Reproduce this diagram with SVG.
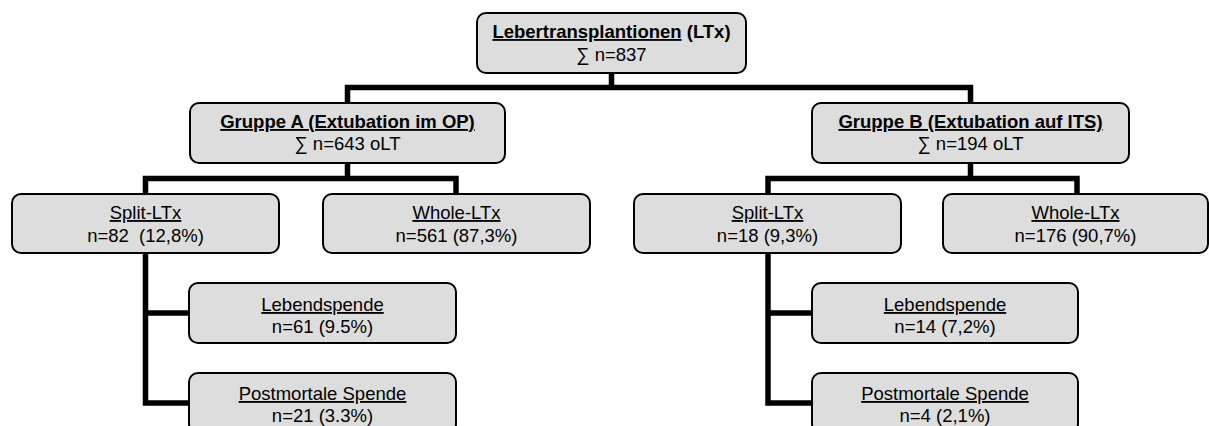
<svg xmlns="http://www.w3.org/2000/svg" width="1209" height="426" viewBox="0 0 1209 426">
<style>
.box{fill:#dddddd;stroke:#000;stroke-width:2}
.t{font-family:"Liberation Sans",Arial,sans-serif;font-size:18.5px;fill:#000;text-anchor:middle;white-space:pre}
.b{font-weight:bold}
.u{text-decoration:underline}
.c{fill:none;stroke:#000;stroke-width:5.5;stroke-linecap:square;stroke-linejoin:miter}
</style>
<rect width="1209" height="426" fill="#fff"/>
<g id="connectors">
<path class="c" d="M611.5,73V87.5M347.5,87.5H970.5M347.5,87.5V102M970.5,87.5V102"/>
<path class="c" d="M347.5,164V178.5M145.5,178.5H456M145.5,178.5V193M456,178.5V193"/>
<path class="c" d="M970.5,164V178.5M768,178.5H1077M768,178.5V193M1077,178.5V193"/>
<path class="c" d="M145.5,254V403H188M145.5,313H188"/>
<path class="c" d="M768,254V403H811M768,313H811"/>
</g>
<g id="root">
<rect class="box" x="477" y="13" width="269" height="60" rx="9"/>
<text class="t b" x="611.5" y="38"><tspan class="u">Lebertransplantionen</tspan> (LTx)</text>
<text class="t" x="611.5" y="61">∑ n=837</text>
</g>
<g id="gruppeA">
<rect class="box" x="190" y="103" width="315" height="60" rx="9"/>
<text class="t b u" x="347.5" y="128">Gruppe A (Extubation im OP)</text>
<text class="t" x="347.5" y="150">∑ n=643 oLT</text>
</g>
<g id="gruppeB">
<rect class="box" x="812" y="103" width="317" height="60" rx="9"/>
<text class="t b u" x="970.5" y="128">Gruppe B (Extubation auf ITS)</text>
<text class="t" x="970.5" y="150">∑ n=194 oLT</text>
</g>
<g id="splitA">
<rect class="box" x="12" y="194" width="267" height="59" rx="9"/>
<text class="t u" x="145.5" y="219">Split-LTx</text>
<text class="t" x="145.5" y="242">n=82  (12,8%)</text>
</g>
<g id="wholeA">
<rect class="box" x="323" y="194" width="267" height="59" rx="9"/>
<text class="t u" x="456.5" y="219">Whole-LTx</text>
<text class="t" x="456.5" y="242">n=561 (87,3%)</text>
</g>
<g id="splitB">
<rect class="box" x="634" y="194" width="267" height="59" rx="9"/>
<text class="t u" x="767.5" y="219">Split-LTx</text>
<text class="t" x="767.5" y="242">n=18 (9,3%)</text>
</g>
<g id="wholeB">
<rect class="box" x="943" y="194" width="265" height="59" rx="9"/>
<text class="t u" x="1075.5" y="219">Whole-LTx</text>
<text class="t" x="1075.5" y="242">n=176 (90,7%)</text>
</g>
<g id="lebendA">
<rect class="box" x="189" y="283" width="267" height="60" rx="9"/>
<text class="t u" x="322.5" y="311">Lebendspende</text>
<text class="t" x="322.5" y="333">n=61 (9.5%)</text>
</g>
<g id="postA">
<rect class="box" x="189" y="373" width="267" height="60" rx="9"/>
<text class="t u" x="322.5" y="400">Postmortale Spende</text>
<text class="t" x="322.5" y="422">n=21 (3.3%)</text>
</g>
<g id="lebendB">
<rect class="box" x="812" y="283" width="266" height="60" rx="9"/>
<text class="t u" x="945" y="311">Lebendspende</text>
<text class="t" x="945" y="333">n=14 (7,2%)</text>
</g>
<g id="postB">
<rect class="box" x="812" y="373" width="266" height="60" rx="9"/>
<text class="t u" x="945" y="400">Postmortale Spende</text>
<text class="t" x="945" y="422">n=4 (2,1%)</text>
</g>
</svg>
